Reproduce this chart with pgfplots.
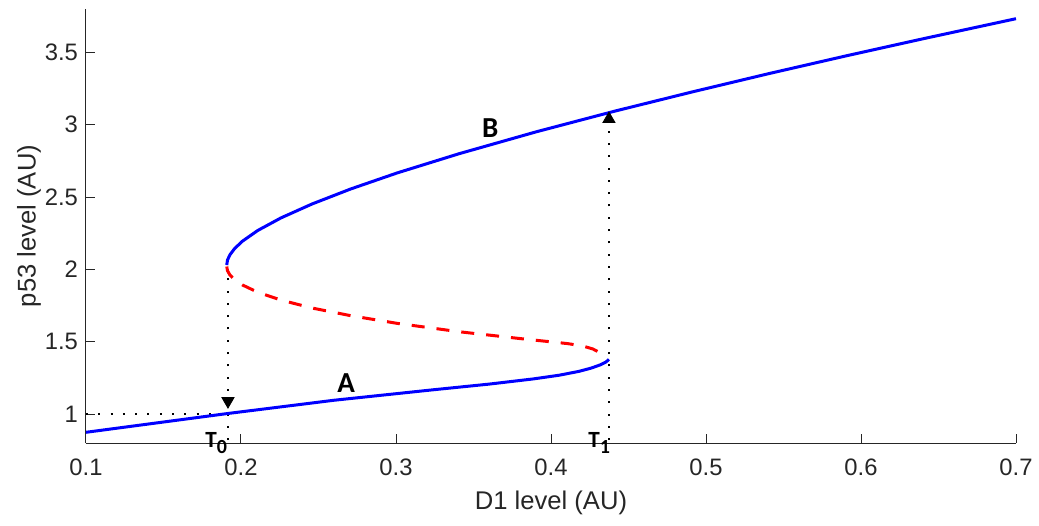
\documentclass[border=0pt]{standalone}
\usepackage{fontspec}
\setmainfont{Liberation Sans}
\newfontfamily\labfont{Carlito}
\usepackage{pgfplots}
\pgfplotsset{compat=1.18}
\definecolor{axgray}{gray}{0.15}
\begin{document}
\begin{tikzpicture}
\begin{axis}[name=ax, scale only axis, width=465pt, height=217pt,
  xmin=0.1, xmax=0.7, ymin=0.8, ymax=3.8,
  axis lines*=left,
  axis line style={axgray, line width=0.5pt},
  tick align=inside, major tick length=4.5pt,
  tick style={axgray, line width=0.5pt},
  xtick={0.1,0.2,0.3,0.4,0.5,0.6,0.7},
  ytick={1,1.5,2,2.5,3,3.5},
  xticklabels={0.1,0.2,0.3,0.4,0.5,0.6,0.7},
  yticklabels={1,1.5,2,2.5,3,3.5},
  ticklabel style={font=\fontsize{11.9}{14}\selectfont, text=axgray},
  xticklabel style={yshift=-4.3pt},
  yticklabel style={xshift=-0.5pt},
  /pgf/number format/assume math mode=true,
  xlabel={D1 level (AU)}, ylabel={p53 level (AU)},
  label style={font=\fontsize{12.8}{15}\selectfont, text=axgray},
  xlabel style={at={([yshift=-30pt]axis description cs:0.5,0)}, anchor=center},
  ylabel style={at={([xshift=-28.5pt]axis description cs:0,0.5)}, anchor=center},
  clip=false]
% dotted guide lines
\addplot[black, line width=1pt, dash pattern=on 1pt off 5.15pt] coordinates {(0.1,1) (0.1916,1)};
\addplot[black, line width=1pt, dash pattern=on 1pt off 5.15pt] coordinates {(0.1916,0.82) (0.1916,2.0)};
\addplot[black, line width=1pt, dash pattern=on 1pt off 5.15pt] coordinates {(0.4374,0.82) (0.4374,3.02)};
% lower stable branch A
\addplot[blue, line width=1.5pt] coordinates {
(0.1,0.874) (0.1908,1.003) (0.2596,1.095) (0.3241,1.168) (0.36,1.207)
(0.3886,1.243) (0.405,1.268) (0.418,1.295) (0.426,1.318) (0.432,1.341)
(0.4355,1.36) (0.4374,1.378)};
% unstable branch
\addplot[red, line width=1.5pt, dash pattern=on 6.5pt off 6pt] coordinates {
(0.1908,2.02) (0.1913,1.991) (0.1928,1.962) (0.1958,1.929) (0.2008,1.893)
(0.2108,1.842) (0.2258,1.788) (0.2458,1.733) (0.2708,1.680) (0.3008,1.627)
(0.3408,1.569) (0.3808,1.521) (0.4108,1.487) (0.4206,1.470) (0.4270,1.450)
(0.4305,1.430) (0.434,1.408)};
% upper stable branch B
\addplot[blue, line width=1.5pt] coordinates {
(0.1908,2.030) (0.1913,2.065) (0.1928,2.100) (0.1958,2.143) (0.2008,2.194)
(0.2108,2.269) (0.2258,2.356) (0.2458,2.452) (0.2708,2.556) (0.3008,2.667)
(0.3408,2.800) (0.3908,2.952) (0.4408,3.093) (0.4908,3.226) (0.5408,3.354)
(0.5908,3.477) (0.6408,3.596) (0.7,3.733)};
% arrow heads
\addplot[only marks, mark=triangle*, mark size=3.5pt, mark options={black, rotate=180}] coordinates {(0.1916,1.09)};
\addplot[only marks, mark=triangle*, mark size=3.5pt, mark options={black}] coordinates {(0.4374,3.039)};
% labels
\node[anchor=base west, inner sep=0pt, font=\labfont\bfseries\fontsize{14.5}{16}\selectfont] at (axis cs:0.2619,1.152) {A};
\node[anchor=base west, inner sep=0pt, font=\labfont\bfseries\fontsize{14.5}{16}\selectfont] at (axis cs:0.3553,2.915) {B};
\node[anchor=base west, inner sep=0pt, font=\labfont\bfseries\fontsize{11.6}{14}\selectfont] at (axis cs:0.1768,0.772) {T\raisebox{-3pt}{\fontsize{10}{12}\selectfont 0}};
\node[anchor=base west, inner sep=0pt, font=\labfont\bfseries\fontsize{11.6}{14}\selectfont] at (axis cs:0.4239,0.772) {T\raisebox{-3pt}{\fontsize{10}{12}\selectfont 1}};
\end{axis}
\pgfresetboundingbox
\path[use as bounding box] ([shift={(-43pt,-41pt)}]ax.south west) rectangle ([shift={(11.5pt,4.5pt)}]ax.north east);
\end{tikzpicture}
\end{document}
